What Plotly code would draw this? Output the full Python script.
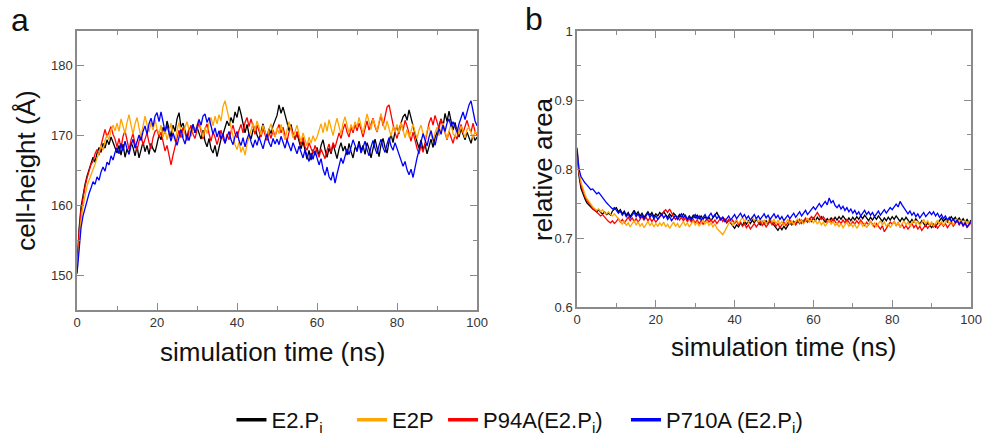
import plotly.graph_objects as go

series_names = ["E2.P<sub>i</sub>\u00a0\u00a0\u00a0\u00a0", "E2P\u2009", "P94A(E2.P<sub>i</sub>)\u00a0\u00a0\u00a0", "P710A (E2.P<sub>i</sub>)"]
series_colors = ["#000000", "#FFA500", "#FF0000", "#0000FF"]

# panel a : cell-height (Å)
height_e2pi = [
    151.0, 156.5, 159.8, 161.7, 163.0, 164.2, 165.1, 165.8, 166.9, 166.2, 167.5, 168.3, 167.6, 168.9, 168.2, 169.4, 168.7, 169.8, 169.1, 168.4,
    167.5, 168.6, 167.2, 168.8, 166.9, 168.1, 167.4, 169.0, 168.3, 167.1, 168.5, 166.8, 168.2, 169.1, 167.7, 168.6, 167.3, 168.9, 168.1, 167.6,
    168.8, 170.1, 169.4, 171.2, 170.3, 172.1, 171.0, 169.8, 171.5, 170.6, 172.4, 173.3, 171.2, 171.8, 170.7, 169.6, 171.1, 170.0, 171.6, 170.4,
    171.2, 170.3, 169.5, 170.8, 169.2, 168.4, 169.6, 168.1, 167.5, 168.6, 167.0, 168.3, 169.5, 170.2, 171.0, 172.1, 171.4, 172.6, 171.8, 173.4,
    172.6, 174.2, 173.1, 171.5, 170.4, 171.6, 170.2, 169.5, 170.8, 171.3, 170.1, 169.4, 170.6, 171.7, 170.5, 169.8, 171.0, 170.3, 171.4, 172.2,
    172.9, 174.4, 173.2, 174.1, 172.8, 171.9, 170.7, 171.6, 170.2, 169.5, 170.3, 169.0, 168.1, 169.2, 167.8, 166.6, 167.9, 166.5, 168.0, 167.2,
    168.3, 167.1, 168.6, 169.4, 168.0, 166.9, 168.2, 167.4, 168.8, 167.6, 166.7, 168.1, 169.0, 167.8, 168.5, 167.2, 168.9, 167.7, 166.8, 168.3,
    168.0, 169.2, 167.9, 168.6, 167.3, 169.0, 168.1, 166.8, 168.4, 169.5, 168.2, 167.0, 168.7, 169.6, 168.3, 167.5, 169.1, 170.2, 169.0, 170.6,
    171.4, 170.3, 171.8, 172.7, 173.1, 172.2, 173.7, 172.5, 171.2, 170.0, 169.1, 168.2, 169.4, 167.9, 168.8, 167.4, 168.6, 169.5, 168.3, 169.7,
    170.5, 171.6, 172.4, 171.3, 173.2, 172.0, 173.5, 172.1, 170.8, 171.9, 170.6, 169.8, 171.0, 170.2, 169.4, 170.5, 169.7, 168.9, 170.1, 169.3, 169.8,
]
height_e2p = [
    150.5, 154.8, 157.9, 159.9, 161.5, 162.8, 163.6, 164.3, 165.2, 165.9, 166.8, 167.5, 168.6, 167.9, 169.3, 170.1, 169.4, 170.8, 171.5, 170.7,
    171.8, 170.6, 172.4, 171.2, 170.3, 171.9, 173.0, 171.5, 170.2, 171.7, 172.6, 171.1, 169.8, 171.4, 172.8, 171.6, 170.5, 171.9, 170.8, 172.3,
    171.0, 170.2, 171.5, 169.8, 170.9, 169.4, 170.6, 171.8, 170.3, 169.2, 170.7, 171.9, 170.5, 169.7, 171.2, 172.0, 170.8, 169.9, 171.4, 170.6,
    171.5, 172.4, 171.0, 169.8, 171.2, 170.3, 171.8, 172.6, 171.4, 172.8, 171.7, 173.0, 172.1, 174.2, 175.0, 173.6, 172.5, 171.2, 169.9, 168.7,
    168.0, 169.1, 167.6, 168.4, 167.2, 168.8, 169.9, 170.6, 171.8, 170.7, 172.1, 171.2, 170.1, 171.5, 170.4, 169.6, 170.9, 171.7, 170.5, 169.8,
    171.1, 170.3, 171.6, 170.5, 169.4, 170.8, 172.0, 170.9, 169.7, 170.6, 171.5, 170.2, 169.1, 170.4, 169.6, 168.5, 169.8, 168.9, 170.0, 169.2,
    169.8, 170.9, 171.7, 170.4, 171.9, 170.6, 172.3, 171.1, 170.0, 171.4, 172.5, 171.3, 170.2, 171.8, 172.7, 171.5, 170.4, 171.6, 170.8, 172.0,
    171.2, 172.6, 171.5, 170.3, 171.8, 173.1, 172.0, 170.9, 172.4, 171.3, 170.6, 172.0, 173.2, 171.7, 170.8, 172.1, 171.0, 169.9, 171.3, 170.5,
    171.6, 170.4, 171.9, 170.8, 169.7, 170.9, 169.8, 170.6, 171.7, 170.5, 169.6, 170.8, 171.5, 170.3, 169.4, 170.7, 171.3, 170.1, 169.2, 170.4,
    171.2, 170.0, 170.9, 171.8, 170.6, 169.5, 170.7, 171.6, 170.3, 169.8, 171.0, 170.2, 171.4, 170.5, 169.7, 170.9, 171.3, 170.4, 169.6, 170.6, 170.2,
]
height_p94a = [
    150.8, 156.0, 159.2, 161.3, 162.7, 163.9, 164.8, 165.9, 166.3, 167.4, 168.0, 167.2, 168.6, 169.7, 170.9, 169.8, 170.6, 171.3, 170.2, 169.5,
    168.4, 169.6, 168.2, 169.9, 170.7, 169.1, 168.0, 169.4, 170.3, 168.8, 167.9, 169.2, 170.1, 168.6, 169.5, 170.4, 169.0, 168.1, 169.7, 170.6,
    170.9, 169.8, 170.5, 169.1, 167.8, 168.6, 166.9, 165.8, 167.2, 168.5, 169.4, 170.8, 169.7, 171.2, 170.4, 169.3, 170.6, 171.5, 170.2, 169.6,
    170.8, 171.9, 170.6, 169.5, 170.9, 171.7, 170.3, 169.2, 170.5, 169.8, 168.7, 169.9, 170.8, 169.6, 168.9, 170.2, 169.4, 170.6, 171.5, 170.3,
    169.7, 170.8, 171.6, 170.4, 171.9, 172.6, 171.3, 172.4, 171.1, 170.2, 171.5, 170.6, 169.8, 171.0, 170.1, 169.3, 170.5, 169.6, 170.8, 169.9,
    170.8, 171.6, 170.4, 171.2, 170.0, 169.2, 170.5, 171.3, 170.1, 169.4, 170.6, 169.5, 168.7, 169.8, 168.4, 167.9, 169.0, 168.2, 167.5, 168.6,
    167.8, 166.9, 168.1, 167.3, 166.7, 167.9, 168.8, 167.6, 169.0, 168.3, 169.5, 170.4, 169.6, 170.9, 171.7, 170.5, 169.8, 171.2, 170.4, 171.6,
    170.7, 171.8, 170.9, 169.8, 171.0, 172.1, 170.8, 171.7, 172.5, 171.3, 170.5, 171.8, 172.9, 171.4, 172.7, 174.1, 174.4, 172.8, 171.6, 170.4,
    169.6, 170.8, 171.9, 170.7, 172.2, 171.4, 170.3, 169.2, 170.5, 169.1, 168.2, 167.4, 168.6, 167.6, 169.1, 170.4, 171.8, 172.6, 171.5, 172.9,
    172.1, 171.0, 172.4, 171.3, 170.2, 169.4, 170.6, 169.8, 168.9, 170.1, 169.5, 170.7, 171.6, 170.4, 171.3, 172.2, 171.1, 170.5, 171.8, 170.6, 170.1,
]
height_p710a = [
    150.2, 153.6, 156.8, 158.5, 159.6, 160.9, 161.7, 162.5, 163.4, 163.0, 164.1, 163.6, 164.8, 165.5, 164.9, 166.2, 165.8, 167.1, 166.5, 167.6,
    168.3, 167.4, 168.9, 167.8, 169.2, 168.1, 167.3, 168.6, 169.5, 168.2, 169.0, 170.1, 169.3, 170.6, 171.4, 170.2, 171.7, 172.5, 171.3, 172.8,
    173.3, 172.0, 173.4, 171.8, 170.6, 171.5, 170.1, 169.2, 170.4, 169.5, 168.6, 169.8, 170.9, 169.6, 168.8, 170.1, 169.3, 170.5, 171.6, 170.4,
    171.2, 172.3, 171.5, 172.8, 173.1, 171.9, 172.6, 171.4, 170.2, 171.1, 169.8, 170.7, 169.5, 170.3, 168.9, 169.8, 170.6, 169.4, 168.7, 169.9,
    170.6, 169.3, 168.6, 169.7, 168.4, 169.5, 170.3, 169.1, 168.3, 169.4, 168.6, 169.8, 168.9, 168.1, 169.3, 170.2, 169.0, 168.4, 169.6, 168.8,
    169.5, 168.7, 169.9, 169.1, 168.2, 169.4, 168.6, 167.8, 169.0, 168.1, 167.4, 168.5, 167.6, 166.8, 168.0, 167.2, 166.3, 167.5, 166.6, 167.8,
    166.9, 165.8, 166.7, 165.2, 164.3, 165.5, 164.1, 163.6, 164.8, 163.2, 164.5, 165.7, 166.8, 166.0, 167.2, 168.1, 167.3, 168.5, 169.4, 168.6,
    167.7, 168.9, 167.5, 168.3, 169.2, 168.0, 167.1, 168.4, 169.3, 168.2, 167.4, 168.6, 169.5, 168.3, 167.6, 168.8, 169.7, 168.5, 167.9, 169.0,
    168.1, 167.2, 166.4, 165.6, 166.3, 165.1, 164.4, 165.2, 164.0, 165.5, 166.8, 167.9, 169.1, 170.3, 169.4, 168.5, 169.8, 170.7, 169.5, 168.6,
    169.9, 171.0, 170.2, 171.5, 170.6, 171.8, 172.4, 171.3, 172.0, 171.1, 170.5, 171.7, 172.6, 173.4, 172.3, 173.5, 174.4, 175.0, 173.6, 172.1, 171.4,
]

# panel b : relative area
area_e2pi = [
    0.828, 0.790, 0.772, 0.763, 0.757, 0.751, 0.748, 0.744, 0.742, 0.740, 0.738, 0.741, 0.737, 0.735, 0.738, 0.734, 0.736, 0.733, 0.739, 0.742,
    0.744, 0.738, 0.741, 0.735, 0.739, 0.733, 0.737, 0.731, 0.736, 0.740, 0.734, 0.738, 0.732, 0.736, 0.730, 0.734, 0.738, 0.733, 0.737, 0.731,
    0.735, 0.732, 0.737, 0.733, 0.738, 0.734, 0.730, 0.735, 0.731, 0.736, 0.733, 0.729, 0.734, 0.730, 0.735, 0.731, 0.727, 0.732, 0.728, 0.733,
    0.729, 0.733, 0.728, 0.732, 0.727, 0.731, 0.726, 0.730, 0.725, 0.729, 0.734, 0.737, 0.731, 0.727, 0.730, 0.725, 0.722, 0.726, 0.721, 0.718,
    0.714, 0.719, 0.716, 0.722, 0.718, 0.724, 0.720, 0.725, 0.721, 0.726, 0.722, 0.727, 0.723, 0.719, 0.724, 0.720, 0.725, 0.721, 0.726, 0.722,
    0.718, 0.714, 0.711, 0.716, 0.712, 0.717, 0.713, 0.718, 0.722, 0.719, 0.724, 0.720, 0.725, 0.721, 0.726, 0.722, 0.727, 0.723, 0.728, 0.724,
    0.729, 0.725, 0.730, 0.726, 0.731, 0.727, 0.723, 0.728, 0.724, 0.729, 0.725, 0.730, 0.726, 0.731, 0.727, 0.732, 0.728, 0.724, 0.729, 0.725,
    0.730, 0.726, 0.731, 0.727, 0.732, 0.728, 0.733, 0.729, 0.725, 0.730, 0.726, 0.731, 0.727, 0.732, 0.728, 0.724, 0.729, 0.725, 0.730, 0.726,
    0.731, 0.727, 0.732, 0.728, 0.724, 0.729, 0.725, 0.730, 0.726, 0.722, 0.727, 0.723, 0.728, 0.724, 0.720, 0.725, 0.721, 0.717, 0.722, 0.718,
    0.715, 0.720, 0.716, 0.721, 0.725, 0.729, 0.724, 0.728, 0.723, 0.727, 0.731, 0.726, 0.730, 0.725, 0.729, 0.724, 0.728, 0.723, 0.727, 0.722, 0.726,
]
area_e2p = [
    0.832, 0.798, 0.781, 0.770, 0.763, 0.757, 0.752, 0.749, 0.745, 0.743, 0.740, 0.742, 0.738, 0.741, 0.737, 0.735, 0.738, 0.734, 0.732, 0.735,
    0.731, 0.727, 0.724, 0.720, 0.725, 0.718, 0.722, 0.716, 0.721, 0.725, 0.719, 0.723, 0.717, 0.721, 0.715, 0.720, 0.724, 0.718, 0.722, 0.716,
    0.721, 0.717, 0.722, 0.718, 0.723, 0.716, 0.720, 0.714, 0.719, 0.723, 0.717, 0.721, 0.715, 0.720, 0.724, 0.718, 0.722, 0.716, 0.721, 0.725,
    0.719, 0.723, 0.717, 0.722, 0.726, 0.720, 0.724, 0.718, 0.722, 0.716, 0.720, 0.714, 0.711, 0.708, 0.705, 0.710, 0.716, 0.721, 0.725, 0.719,
    0.723, 0.727, 0.721, 0.726, 0.730, 0.724, 0.728, 0.722, 0.727, 0.731, 0.725, 0.729, 0.723, 0.728, 0.722, 0.726, 0.720, 0.725, 0.729, 0.723,
    0.727, 0.721, 0.726, 0.720, 0.724, 0.718, 0.723, 0.727, 0.721, 0.725, 0.719, 0.724, 0.728, 0.722, 0.726, 0.720, 0.725, 0.729, 0.723, 0.727,
    0.722, 0.726, 0.720, 0.725, 0.719, 0.723, 0.717, 0.722, 0.726, 0.720, 0.724, 0.718, 0.722, 0.716, 0.721, 0.715, 0.719, 0.723, 0.717, 0.721,
    0.716, 0.720, 0.714, 0.719, 0.723, 0.717, 0.721, 0.715, 0.720, 0.724, 0.718, 0.722, 0.716, 0.721, 0.725, 0.719, 0.723, 0.717, 0.721, 0.715,
    0.720, 0.724, 0.718, 0.722, 0.716, 0.721, 0.725, 0.719, 0.723, 0.717, 0.722, 0.726, 0.720, 0.724, 0.718, 0.723, 0.727, 0.721, 0.725, 0.719,
    0.723, 0.717, 0.722, 0.726, 0.720, 0.724, 0.718, 0.723, 0.727, 0.721, 0.725, 0.719, 0.724, 0.728, 0.722, 0.726, 0.720, 0.725, 0.721, 0.724, 0.722,
]
area_p94a = [
    0.826, 0.795, 0.777, 0.767, 0.760, 0.755, 0.750, 0.747, 0.743, 0.740, 0.737, 0.735, 0.732, 0.734, 0.730, 0.727, 0.724, 0.722, 0.725, 0.721,
    0.724, 0.728, 0.723, 0.727, 0.722, 0.726, 0.730, 0.725, 0.729, 0.724, 0.728, 0.723, 0.727, 0.731, 0.726, 0.730, 0.725, 0.729, 0.724, 0.728,
    0.723, 0.727, 0.731, 0.735, 0.738, 0.741, 0.737, 0.742, 0.736, 0.731, 0.727, 0.731, 0.726, 0.730, 0.725, 0.729, 0.724, 0.728, 0.723, 0.727,
    0.722, 0.726, 0.721, 0.725, 0.720, 0.724, 0.728, 0.723, 0.727, 0.722, 0.726, 0.721, 0.725, 0.729, 0.724, 0.728, 0.723, 0.727, 0.722, 0.726,
    0.721, 0.725, 0.719, 0.723, 0.717, 0.721, 0.715, 0.719, 0.713, 0.717, 0.721, 0.716, 0.720, 0.724, 0.718, 0.722, 0.716, 0.720, 0.724, 0.719,
    0.723, 0.717, 0.721, 0.715, 0.719, 0.723, 0.718, 0.722, 0.726, 0.720, 0.724, 0.719, 0.723, 0.727, 0.721, 0.725, 0.729, 0.723, 0.727, 0.731,
    0.728, 0.733, 0.737, 0.732, 0.727, 0.731, 0.726, 0.722, 0.727, 0.723, 0.728, 0.724, 0.720, 0.725, 0.721, 0.726, 0.722, 0.727, 0.723, 0.719,
    0.724, 0.720, 0.725, 0.721, 0.726, 0.722, 0.718, 0.723, 0.719, 0.724, 0.720, 0.716, 0.721, 0.717, 0.713, 0.718, 0.709, 0.714, 0.719, 0.723,
    0.720, 0.724, 0.718, 0.722, 0.716, 0.720, 0.714, 0.718, 0.713, 0.717, 0.721, 0.715, 0.719, 0.713, 0.717, 0.711, 0.715, 0.719, 0.714, 0.718,
    0.722, 0.716, 0.720, 0.714, 0.718, 0.722, 0.717, 0.721, 0.715, 0.719, 0.723, 0.717, 0.721, 0.725, 0.719, 0.723, 0.717, 0.721, 0.715, 0.719, 0.722,
]
area_p710a = [
    0.830, 0.800, 0.789, 0.784, 0.780, 0.777, 0.773, 0.770, 0.771, 0.767, 0.764, 0.766, 0.762, 0.758, 0.755, 0.751, 0.748, 0.745, 0.742, 0.744,
    0.740, 0.736, 0.739, 0.733, 0.737, 0.731, 0.735, 0.729, 0.733, 0.737, 0.731, 0.735, 0.729, 0.733, 0.728, 0.732, 0.736, 0.730, 0.734, 0.728,
    0.732, 0.727, 0.731, 0.735, 0.729, 0.733, 0.727, 0.731, 0.725, 0.729, 0.733, 0.727, 0.731, 0.735, 0.729, 0.733, 0.727, 0.731, 0.726, 0.730,
    0.734, 0.728, 0.732, 0.726, 0.730, 0.734, 0.728, 0.732, 0.736, 0.730, 0.734, 0.728, 0.732, 0.726, 0.730, 0.724, 0.728, 0.732, 0.726, 0.730,
    0.734, 0.728, 0.732, 0.736, 0.730, 0.734, 0.728, 0.732, 0.726, 0.730, 0.734, 0.728, 0.732, 0.727, 0.731, 0.735, 0.729, 0.733, 0.727, 0.731,
    0.735, 0.729, 0.733, 0.727, 0.731, 0.725, 0.729, 0.733, 0.728, 0.732, 0.736, 0.730, 0.734, 0.738, 0.732, 0.736, 0.740, 0.734, 0.738, 0.742,
    0.745, 0.741, 0.746, 0.750, 0.745, 0.749, 0.753, 0.748, 0.758, 0.751, 0.754, 0.747, 0.744, 0.748, 0.742, 0.746, 0.740, 0.744, 0.738, 0.742,
    0.736, 0.740, 0.734, 0.738, 0.732, 0.736, 0.740, 0.734, 0.738, 0.733, 0.737, 0.731, 0.735, 0.739, 0.733, 0.737, 0.741, 0.736, 0.740, 0.744,
    0.741, 0.746, 0.749, 0.745, 0.753, 0.748, 0.744, 0.739, 0.735, 0.739, 0.733, 0.737, 0.731, 0.735, 0.729, 0.733, 0.737, 0.731, 0.735, 0.738,
    0.734, 0.738, 0.732, 0.736, 0.730, 0.734, 0.728, 0.732, 0.726, 0.730, 0.724, 0.728, 0.722, 0.726, 0.720, 0.724, 0.718, 0.722, 0.716, 0.720, 0.724,
]

sample_step_ns = 0.5
height_series = [height_e2pi, height_e2p, height_p94a, height_p710a]
area_series = [area_e2pi, area_e2p, area_p94a, area_p710a]

x_ticks = [0, 20, 40, 60, 80, 100]
height_ticks = [150, 160, 170, 180]
area_ticks = [0.6, 0.7, 0.8, 0.9, 1.0]
area_tick_text = ["0.6", "0.7", "0.8", "0.9", "1"]

x_title = "simulation time (ns)"
ya_title = "cell-height (Å)"
yb_title = "relative area"

# ---------------- figure ----------------
FONT = "Liberation Sans, Arial, sans-serif"
AXIS_COL = "#8a8a8a"
TICK_FONT = dict(family=FONT, size=13, color="#333333")
TITLE_FONT = dict(family=FONT, size=26, color="#111111")
W, H = 985, 443

fig = go.Figure()

draw_order = [0, 2, 1, 3]   # black, red, orange, blue (blue on top)
for k in draw_order:
    ys = height_series[k]
    fig.add_trace(go.Scatter(
        x=[i * sample_step_ns for i in range(len(ys))], y=ys, mode="lines",
        line=dict(color=series_colors[k], width=1.3),
        name=series_names[k], showlegend=False, xaxis="x", yaxis="y"))
for k in draw_order:
    ys = area_series[k]
    fig.add_trace(go.Scatter(
        x=[i * sample_step_ns for i in range(len(ys))], y=ys, mode="lines",
        line=dict(color=series_colors[k], width=1.3),
        name=series_names[k], showlegend=False, xaxis="x2", yaxis="y2"))
# legend entries (thicker key lines, as in the reference)
for k in range(4):
    fig.add_trace(go.Scatter(
        x=[None], y=[None], mode="lines",
        line=dict(color=series_colors[k], width=3.5),
        name=series_names[k], showlegend=True, xaxis="x", yaxis="y"))

common_axis = dict(
    showline=True, linecolor=AXIS_COL, linewidth=1.5, mirror="ticks",
    ticks="inside", ticklen=7, tickwidth=1.2, tickcolor=AXIS_COL,
    showgrid=False, zeroline=False, tickfont=TICK_FONT, automargin=False,
)
minor_common = dict(ticklen=4, ticks="inside", tickcolor=AXIS_COL, tickwidth=1.2)


def px_annot(text, xc, yc, size=26, angle=0, xanchor="center", yanchor="middle"):
    return dict(text=text, x=xc / W, y=1 - yc / H, xref="paper", yref="paper",
                xanchor=xanchor, yanchor=yanchor, showarrow=False, textangle=angle,
                font=dict(family=FONT, size=size, color="#111111"))


fig.update_layout(
    width=W, height=H,
    margin=dict(l=0, r=0, t=0, b=0, autoexpand=False),
    paper_bgcolor="white", plot_bgcolor="white",
    font=dict(family=FONT),
    xaxis=dict(domain=[0.0782, 0.4843], range=[0, 100], tickvals=x_ticks,
               minor=dict(dtick=10, tick0=0, **minor_common),
               anchor="y", **common_axis),
    yaxis=dict(domain=[0.3002, 0.9300], range=[145, 185], tickvals=height_ticks,
               minor=dict(dtick=5, tick0=145, **minor_common),
               title=dict(text=ya_title, font=TITLE_FONT, standoff=8),
               anchor="x", **common_axis),
    xaxis2=dict(domain=[0.5858, 0.9858], range=[0, 100], tickvals=x_ticks,
                minor=dict(dtick=10, tick0=0, **minor_common),
                anchor="y2", **common_axis),
    yaxis2=dict(domain=[0.3070, 0.9300], range=[0.6, 1.0], tickvals=area_ticks, ticktext=area_tick_text,
                minor=dict(dtick=0.05, tick0=0.6, **minor_common),
                anchor="x2", **common_axis),
    legend=dict(orientation="h", x=0.235, xanchor="left", y=0.052, yanchor="middle",
                font=dict(family=FONT, size=22, color="#111111"),
                itemwidth=30, tracegroupgap=0, bgcolor="rgba(0,0,0,0)"),
    annotations=[
        px_annot(x_title, 272, 352),
        px_annot(x_title, 783, 347),
        px_annot(yb_title, 543, 169, angle=-90),
        dict(text="a", x=9 / W, y=1 + 0 / H, xref="paper", yref="paper",
             xanchor="left", yanchor="top", showarrow=False,
             font=dict(family=FONT, size=32, color="#111111")),
        dict(text="b", x=523 / W, y=1 + 1 / H, xref="paper", yref="paper",
             xanchor="left", yanchor="top", showarrow=False,
             font=dict(family=FONT, size=32, color="#111111")),
    ],
)

fig.write_html("out.html")
